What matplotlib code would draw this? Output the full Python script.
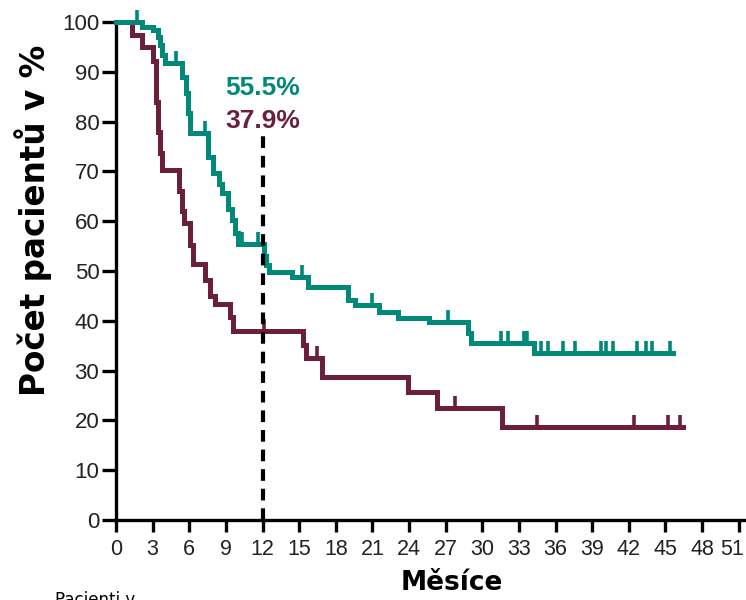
import numpy as np
import matplotlib
matplotlib.use("Agg")
import matplotlib.pyplot as plt
from matplotlib import markers
from matplotlib.transforms import ScaledTranslation

# Kaplan-Meier steps: month of each drop and the survival (%) after it
teal_t = [0, 2.1, 3.0, 3.4, 3.6, 3.8, 4.0, 5.4, 5.7, 5.9, 6.1, 7.5, 7.95, 8.4, 8.7,
          9.2, 9.5, 9.75, 10.0, 12.1, 12.3, 12.5, 14.4, 15.7, 19.0, 19.6, 21.5,
          23.1, 25.6, 28.8, 29.1, 34.2, 45.6]
teal_s = [100, 99.0, 98.4, 97.0, 95.4, 93.4, 91.8, 89.0, 85.7, 81.7, 77.7, 72.9, 69.7,
          67.5, 65.7, 62.5, 60.2, 57.6, 55.5, 53.0, 51.2, 49.8, 48.8, 46.8, 44.2,
          43.2, 41.8, 40.6, 39.8, 37.5, 35.5, 33.6, 33.6]
teal_cens = [1.7, 4.9, 7.3, 10.3, 11.6, 15.2, 21.0, 27.2, 31.5, 32.1, 33.4, 33.7,
             34.8, 35.4, 36.6, 37.6, 39.7, 40.1, 40.7, 42.7, 43.4, 43.9, 45.4]

maroon_t = [0, 1.3, 2.1, 3.0, 3.3, 3.4, 3.6, 3.8, 5.2, 5.4, 5.6, 6.1, 6.3, 7.3, 7.7,
            8.1, 9.3, 9.6, 15.3, 15.6, 16.9, 23.9, 26.3, 31.6, 46.4]
maroon_s = [100, 97.4, 95.0, 92.1, 84.0, 78.0, 73.7, 70.3, 66.0, 62.0, 59.6, 55.2,
            51.5, 48.2, 45.0, 43.4, 40.8, 37.9, 35.1, 32.5, 28.7, 25.7, 22.5, 18.7, 18.7]
maroon_cens = [12.1, 16.5, 27.8, 34.5, 42.4, 45.2, 46.2]

landmark = 12
teal_label = "55.5%"
maroon_label = "37.9%"

teal = "#008878"
maroon = "#6a1f3b"
tick_font = ["Liberation Sans", "DejaVu Sans"]


def level_at(times, surv, t):
    i = np.searchsorted(times, t, side="right") - 1
    return np.asarray(surv)[i]


fig = plt.figure(figsize=(7.46, 6), dpi=100)
ax = fig.add_axes([0.1555, 0.1333, 0.8445, 0.83])

for t, s, cens, col in [(maroon_t, maroon_s, maroon_cens, maroon),
                        (teal_t, teal_s, teal_cens, teal)]:
    ax.step(t, s, where="post", color=col, lw=3.6, solid_joinstyle="miter",
            clip_on=False, zorder=3)
    ax.plot(cens, level_at(t, s, cens), ls="none", marker=markers.TICKUP,
            ms=9, mew=2.6, color=col, clip_on=False, zorder=3)

# 12-month landmark
ax.plot([landmark, landmark], [0, 78.3], color="black", lw=3, ls=(0, (2.8, 1.9)),
        zorder=4, clip_on=False)
ax.text(landmark, 86.8, teal_label, color=teal, fontsize=19, fontweight="bold",
        ha="center", va="center", family=["Liberation Sans", "DejaVu Sans"])
ax.text(landmark, 80.2, maroon_label, color=maroon, fontsize=19, fontweight="bold",
        ha="center", va="center", family=["Liberation Sans", "DejaVu Sans"])

ax.set_xlim(0, 51.6)
ax.set_ylim(0, 100)
ax.set_xticks(np.arange(0, 52, 3))
ax.set_yticks(np.arange(0, 101, 10))
for side in ["top", "right"]:
    ax.spines[side].set_visible(False)
for side in ["left", "bottom"]:
    ax.spines[side].set_linewidth(2.4)
ax.tick_params(axis="y", length=10, width=2.4, pad=2, labelsize=16, labelcolor="#222222")
ax.tick_params(axis="x", length=8.5, width=2.4, pad=5, labelsize=15.5, labelcolor="#222222")
for lab in ax.get_xticklabels() + ax.get_yticklabels():
    lab.set_family(tick_font)

# keep the last month label inside the canvas
last = ax.get_xticklabels()[-1]
last.set_transform(last.get_transform() + ScaledTranslation(-5 / 72, 0, fig.dpi_scale_trans))

fig.text(0.606, 0.028, "Měsíce", fontsize=19, fontweight="bold", ha="center",
         va="center", family="DejaVu Sans")
fig.text(0.044, 0.633, "Počet pacientů v %", fontsize=23.5, fontweight="bold",
         rotation=90, ha="center", va="center", family="DejaVu Sans")
fig.text(0.074, 0.0, "Pacienti v", fontsize=12, ha="left", va="center",
         family="DejaVu Sans")

fig.savefig("out.png", dpi=100)
